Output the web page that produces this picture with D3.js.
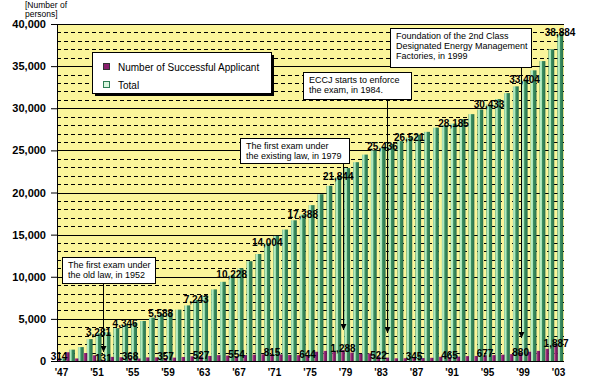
<!DOCTYPE html>
<html>
<head>
<meta charset="utf-8">
<script src="https://cdn.jsdelivr.net/npm/d3@7"></script>
<style>
body { margin: 0; background: #fff; }
text { font-family: Arial, "Liberation Sans", sans-serif; }
</style>
</head>
<body>
<div id="chart"></div>
<script>
// one bar pair per year
const years = [1947,1948,1949,1950,1951,1952,1953,1954,1955,1956,
  1957,1958,1959,1960,1961,1962,1963,1964,1965,1966,
  1967,1968,1969,1970,1971,1972,1973,1974,1975,1976,
  1977,1978,1979,1980,1981,1982,1983,1984,1985,1986,
  1987,1988,1989,1990,1991,1992,1993,1994,1995,1996,
  1997,1998,1999,2000,2001,2002,2003];

const successful = [314,1036,300,950,681,131,488,446,368,300,
  430,438,357,400,480,560,527,600,700,650,
  554,700,750,800,815,780,720,700,644,1100,
  1200,1100,1288,1000,850,900,522,400,320,330,
  345,350,380,500,465,520,580,600,677,700,
  750,820,880,1100,1200,1450,1887];

const total = [314,1350,1650,2600,3281,3412,3900,4346,4500,4750,
  5150,5588,5750,6100,6600,7243,7750,8500,9400,10228,
  11000,11850,12700,14004,14850,15600,16700,17388,18500,19800,
  20800,21844,22900,23600,24500,25000,25436,25750,26100,26521,
  26850,27200,27700,28000,28185,28700,29300,29850,30433,31100,
  31800,32600,33404,34500,35600,37000,38884];

const tickYears = [1947,1951,1955,1959,1963,1967,1971,1975,1979,1983,1987,1991,1995,1999,2003];
const tickLabels = ["'47","'51","'55","'59","'63","'67","'71","'75","'79","'83","'87","'91","'95","'99","'03"];

const successLabelYears = [1947,1952,1955,1959,1963,1967,1971,1975,1979,1983,1987,1991,1995,1999,2003];
const totalLabelYears = [1951,1954,1958,1962,1966,1970,1974,1978,1983,1986,1991,1995,1999,2003];

const yTicks = [0,5000,10000,15000,20000,25000,30000,35000,40000];

const notes = [
  {year: 1952, lines: ["The first exam under", "the old law, in 1952"]},
  {year: 1979, lines: ["The first exam under", "the existing law, in 1979"]},
  {year: 1984, lines: ["ECCJ starts to enforce", "the exam, in 1984."]},
  {year: 1999, lines: ["Foundation of the 2nd Class", "Designated Energy Management", "Factories, in 1999"]}
];
// callout box placement (layout only)
const noteBoxes = [
  {x: 62, y: 257, w: 93, h: 26, tip: 352},
  {x: 240, y: 138, w: 109, h: 25, tip: 330},
  {x: 303, y: 72, w: 108, h: 27, tip: 333},
  {x: 390, y: 28, w: 141, h: 39, tip: 338}
];

const width = 600, height = 381;

const svg = d3.select("#chart").append("svg")
  .attr("width", width)
  .attr("height", height);

const defs = svg.append("defs");
const gGreen = defs.append("linearGradient").attr("id", "gGreen");
[[0,"#3f9566"],[0.12,"#bdefc8"],[0.38,"#a6e3b4"],[0.48,"#3c9062"],[1,"#286f4b"]]
  .forEach(s => gGreen.append("stop").attr("offset", s[0]).attr("stop-color", s[1]));
const gPurple = defs.append("linearGradient").attr("id", "gPurple");
[[0,"#b04892"],[0.5,"#8a1f6e"],[1,"#5e0a4b"]]
  .forEach(s => gPurple.append("stop").attr("offset", s[0]).attr("stop-color", s[1]));
defs.append("marker").attr("id", "arrow")
  .attr("viewBox", "0 0 6 6").attr("refX", 6).attr("refY", 3)
  .attr("markerWidth", 6).attr("markerHeight", 6).attr("orient", "auto")
  .append("path").attr("d", "M0,0 L6,3 L0,6 Z").attr("fill", "#000");

const x = d3.scaleBand().domain(years).range([57, 563]);
const y = d3.scaleLinear().domain([0, 40000]).range([361, 24]);

// plot background
svg.append("rect")
  .attr("x", 57).attr("y", y(40000))
  .attr("width", 507).attr("height", y(0) - y(40000))
  .attr("fill", "#fbf59b");

// dashed grid every 1000, solid every 5000
const minor = d3.range(1000, 40000, 1000).filter(v => v % 5000 !== 0);
svg.append("g").selectAll("line").data(minor).join("line")
  .attr("x1", 57).attr("x2", 564)
  .attr("y1", d => Math.round(y(d)) + 0.5).attr("y2", d => Math.round(y(d)) + 0.5)
  .attr("stroke", "#000").attr("stroke-dasharray", "4,3");
svg.append("g").selectAll("line").data(yTicks.slice(1)).join("line")
  .attr("x1", 57).attr("x2", 564)
  .attr("y1", d => Math.round(y(d)) + 0.5).attr("y2", d => Math.round(y(d)) + 0.5)
  .attr("stroke", "#000");

// bars
svg.append("g").selectAll("rect").data(years).join("rect")
  .attr("x", d => x(d) + 3.2)
  .attr("width", 5.8)
  .attr("y", (d, i) => y(total[i]))
  .attr("height", (d, i) => y(0) - y(total[i]))
  .attr("fill", "url(#gGreen)");
svg.append("g").selectAll("rect").data(years).join("rect")
  .attr("x", d => x(d) + 0.2)
  .attr("width", 3.4)
  .attr("y", (d, i) => y(successful[i]))
  .attr("height", (d, i) => y(0) - y(successful[i]))
  .attr("fill", "url(#gPurple)");

// axes
const yAxis = svg.append("g")
  .attr("transform", "translate(57,0)")
  .call(d3.axisLeft(y).tickValues(yTicks).tickSize(6).tickPadding(5).tickFormat(d3.format(",")));
yAxis.selectAll("text").attr("font-size", 11).attr("font-weight", "bold")
  .attr("font-family", "Arial, 'Liberation Sans', sans-serif").attr("fill", "#000");

const xAxis = svg.append("g")
  .attr("transform", "translate(0,361)")
  .call(d3.axisBottom(x).tickValues(tickYears).tickSize(0).tickPadding(8)
    .tickFormat(d => tickLabels[tickYears.indexOf(d)]));
xAxis.select(".domain").attr("d", "M57,0.5H564");
xAxis.selectAll("text").attr("font-size", 10).attr("font-weight", "bold")
  .attr("font-family", "Arial, 'Liberation Sans', sans-serif").attr("fill", "#000");

// data labels
const fmt = d3.format(",");
svg.append("g").selectAll("text").data(totalLabelYears).join("text")
  .attr("x", d => x(d) + 6)
  .attr("y", d => y(total[years.indexOf(d)]) + 3)
  .attr("text-anchor", "middle")
  .attr("font-size", 10).attr("font-weight", "bold")
  .text(d => fmt(total[years.indexOf(d)]));
svg.append("g").selectAll("text").data(successLabelYears).join("text")
  .attr("x", d => x(d) + 2)
  .attr("y", d => Math.min(y(successful[years.indexOf(d)]) + 2, 362))
  .attr("text-anchor", "middle")
  .attr("font-size", 10).attr("font-weight", "bold")
  .text(d => fmt(successful[years.indexOf(d)]));

// callouts
const ng = svg.append("g");
notes.forEach((n, i) => {
  const b = noteBoxes[i];
  const ax = Math.round(x(n.year) + 2) + 0.5;
  ng.append("line")
    .attr("x1", ax).attr("x2", ax)
    .attr("y1", b.y + b.h).attr("y2", b.tip)
    .attr("stroke", "#000").attr("marker-end", "url(#arrow)");
  ng.append("rect")
    .attr("x", b.x + 0.5).attr("y", b.y + 0.5)
    .attr("width", b.w).attr("height", b.h)
    .attr("fill", "#fff").attr("stroke", "#000");
  n.lines.forEach((t, j) => {
    ng.append("text")
      .attr("x", b.x + 6).attr("y", b.y + 11 + j * 10)
      .attr("font-size", 9)
      .text(t);
  });
});

// legend
const lg = svg.append("g");
lg.append("rect").attr("x", 95).attr("y", 55).attr("width", 179).attr("height", 41).attr("fill", "#000");
lg.append("rect").attr("x", 92.5).attr("y", 52.5).attr("width", 179).attr("height", 41)
  .attr("fill", "#fff").attr("stroke", "#000");
lg.append("rect").attr("x", 103.5).attr("y", 63.5).attr("width", 6).attr("height", 6)
  .attr("fill", "#8a1f6e").attr("stroke", "#333");
lg.append("text").attr("x", 118).attr("y", 71).attr("font-size", 10).text("Number of Successful Applicant");
lg.append("rect").attr("x", 103.5).attr("y", 81.5).attr("width", 6).attr("height", 6)
  .attr("fill", "#d9f7df").attr("stroke", "#2e7f56");
lg.append("text").attr("x", 118).attr("y", 89).attr("font-size", 10).text("Total");

// axis title
svg.append("text").attr("x", 25).attr("y", 8).attr("font-size", 8.5).text("[Number of");
svg.append("text").attr("x", 25).attr("y", 17).attr("font-size", 8.5).text("persons]");
</script>
</body>
</html>
